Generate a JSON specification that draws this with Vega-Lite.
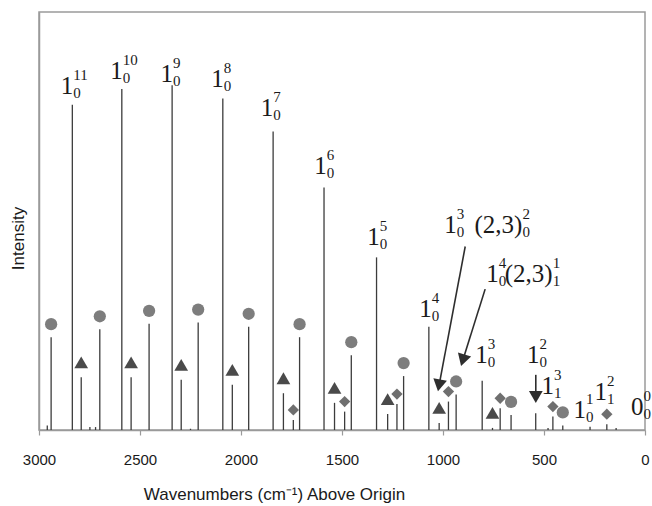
{
  "$schema": "https://vega.github.io/schema/vega-lite/v6.json",
  "width": 606,
  "height": 418,
  "autosize": {"type": "none"},
  "padding": {"left": 39, "top": 12, "right": 7, "bottom": 76},
  "background": "white",
  "config": {"view": {"stroke": "#9a9a9a", "strokeWidth": 1.5}, "font": "Liberation Sans"},
  "datasets": {
    "sticks": [
      {"wn": 2835, "I": 77.8, "type": "main"},
      {"wn": 2590, "I": 81.6, "type": "main"},
      {"wn": 2341, "I": 82.5, "type": "main"},
      {"wn": 2090, "I": 79.3, "type": "main"},
      {"wn": 1841, "I": 71.4, "type": "main"},
      {"wn": 1589, "I": 58.0, "type": "main"},
      {"wn": 1329, "I": 41.3, "type": "main"},
      {"wn": 1070, "I": 24.7, "type": "main"},
      {"wn": 806, "I": 11.8, "type": "main"},
      {"wn": 541, "I": 4.0, "type": "main"},
      {"wn": 272, "I": 0.8, "type": "main"},
      {"wn": 2940, "I": 22.2, "type": "circle"},
      {"wn": 2699, "I": 24.1, "type": "circle"},
      {"wn": 2455, "I": 25.4, "type": "circle"},
      {"wn": 2212, "I": 25.7, "type": "circle"},
      {"wn": 1962, "I": 24.7, "type": "circle"},
      {"wn": 1710, "I": 22.2, "type": "circle"},
      {"wn": 1454, "I": 17.9, "type": "circle"},
      {"wn": 1195, "I": 12.9, "type": "circle"},
      {"wn": 935, "I": 8.5, "type": "circle"},
      {"wn": 663, "I": 3.6, "type": "circle"},
      {"wn": 407, "I": 1.1, "type": "circle"},
      {"wn": 2791, "I": 12.6, "type": "triangle"},
      {"wn": 2544, "I": 12.6, "type": "triangle"},
      {"wn": 2296, "I": 12.0, "type": "triangle"},
      {"wn": 2043, "I": 10.8, "type": "triangle"},
      {"wn": 1790, "I": 8.8, "type": "triangle"},
      {"wn": 1537, "I": 6.5, "type": "triangle"},
      {"wn": 1274, "I": 3.8, "type": "triangle"},
      {"wn": 1019, "I": 1.7, "type": "triangle"},
      {"wn": 755, "I": 0.5, "type": "triangle"},
      {"wn": 1741, "I": 2.4, "type": "diamond"},
      {"wn": 1487, "I": 4.4, "type": "diamond"},
      {"wn": 1228, "I": 6.2, "type": "diamond"},
      {"wn": 973, "I": 6.8, "type": "diamond"},
      {"wn": 717, "I": 5.2, "type": "diamond"},
      {"wn": 456, "I": 3.2, "type": "diamond"},
      {"wn": 189, "I": 1.4, "type": "diamond"},
      {"wn": 2959, "I": 1.1, "type": "minor"},
      {"wn": 2748, "I": 0.7, "type": "minor"},
      {"wn": 2720, "I": 0.7, "type": "minor"},
      {"wn": 2250, "I": 0.3, "type": "minor"},
      {"wn": 480, "I": 0.5, "type": "minor"},
      {"wn": 143, "I": 0.5, "type": "minor"}
    ],
    "labels": [
      {"wn": 2835, "I": 80.5, "main": "1", "sup": "11", "sub": "0"},
      {"wn": 2590, "I": 84.0, "main": "1", "sup": "10", "sub": "0"},
      {"wn": 2341, "I": 83.3, "main": "1", "sup": "9", "sub": "0"},
      {"wn": 2090, "I": 82.1, "main": "1", "sup": "8", "sub": "0"},
      {"wn": 1845, "I": 75.1, "main": "1", "sup": "7", "sub": "0"},
      {"wn": 1580, "I": 61.2, "main": "1", "sup": "6", "sub": "0"},
      {"wn": 1318, "I": 44.3, "main": "1", "sup": "5", "sub": "0"},
      {"wn": 1061, "I": 27.1, "main": "1", "sup": "4", "sub": "0"},
      {"wn": 784, "I": 16.0, "main": "1", "sup": "3", "sub": "0"},
      {"wn": 527, "I": 16.0, "main": "1", "sup": "2", "sub": "0"},
      {"wn": 455, "I": 8.5, "main": "1", "sup": "3", "sub": "1"},
      {"wn": 297, "I": 2.8, "main": "1", "sup": "1", "sub": "0"},
      {"wn": 193, "I": 7.2, "main": "1", "sup": "2", "sub": "1"},
      {"wn": 12, "I": 3.6, "main": "0", "sup": "0", "sub": "0"},
      {"wn": 937, "I": 47.1, "main": "1", "sup": "3", "sub": "0"},
      {"wn": 612, "I": 47.1, "main": "(2,3)", "sup": "2", "sub": "0"},
      {"wn": 729, "I": 35.4, "main": "1", "sup": "4", "sub": "0"},
      {"wn": 462, "I": 35.4, "main": "(2,3)", "sup": "1", "sub": "1"}
    ],
    "arrows": [
      {"id": "a", "wn": 890, "I": 43.9, "wn2": 1019.5, "I2": 10.7},
      {"id": "b", "wn": 791.3, "I": 33.7, "wn2": 902.0, "I2": 16.7},
      {"id": "c", "wn": 540.6, "I": 13.2, "wn2": 540.6, "I2": 7.9}
    ]
  },
  "encoding": {
    "x": {
      "field": "wn", "type": "quantitative",
      "scale": {"domain": [0, 3000], "reverse": true, "nice": false, "zero": false},
      "axis": {
        "values": [0, 500, 1000, 1500, 2000, 2500, 3000],
        "format": "d",
        "grid": false, "domainColor": "#9a9a9a", "domainWidth": 1.5,
        "tickColor": "#9a9a9a", "tickSize": 5, "tickWidth": 1.2,
        "labelFont": "Liberation Sans", "labelFontSize": 15, "labelColor": "#1a1a1a",
        "labelPadding": 17, "labelFlush": false,
        "title": "Wavenumbers (cm⁻¹) Above Origin",
        "titleFont": "Liberation Sans", "titleFontSize": 17, "titleFontWeight": "normal",
        "titleColor": "#1a1a1a", "titleBaseline": "alphabetic", "titleY": 69, "titleX": 235
      }
    },
    "y": {
      "field": "I", "type": "quantitative",
      "scale": {"domain": [0, 100], "nice": false},
      "axis": {
        "grid": false, "ticks": false, "labels": false,
        "domainColor": "#9a9a9a", "domainWidth": 1.5,
        "title": "Intensity", "titleFont": "Liberation Sans", "titleFontSize": 17,
        "titleFontWeight": "normal", "titleColor": "#1a1a1a",
        "titleAngle": -90, "titleBaseline": "alphabetic", "titleX": -16, "titleY": 226
      }
    }
  },
  "layer": [
    {
      "data": {"name": "sticks"},
      "mark": {"type": "rule", "color": "#3c3c3c", "strokeWidth": 1.3},
      "encoding": {"y2": {"datum": 0}}
    },
    {
      "data": {"name": "sticks"},
      "transform": [{"filter": "datum.type === 'circle'"}],
      "mark": {"type": "point", "shape": "circle", "filled": true, "opacity": 1, "size": 150, "color": "#7d7d7d", "yOffset": -13}
    },
    {
      "data": {"name": "sticks"},
      "transform": [{"filter": "datum.type === 'triangle'"}],
      "mark": {"type": "point", "shape": "triangle-up", "filled": true, "opacity": 1, "size": 188, "color": "#4a4a4a", "yOffset": -15}
    },
    {
      "data": {"name": "sticks"},
      "transform": [{"filter": "datum.type === 'diamond'"}],
      "mark": {"type": "point", "shape": "diamond", "filled": true, "opacity": 1, "size": 128, "color": "#6f6f6f", "yOffset": -10}
    },
    {
      "data": {"name": "arrows"},
      "mark": {"type": "rule", "color": "#2e2e2e", "strokeWidth": 1.6},
      "encoding": {"x2": {"field": "wn2"}, "y2": {"field": "I2"}}
    },
    {
      "data": {"name": "arrows"},
      "transform": [{"filter": "datum.id === 'a'"}],
      "mark": {"type": "point", "shape": "triangle-down", "filled": true, "opacity": 1, "size": 190, "color": "#2e2e2e", "angle": 10.5},
      "encoding": {"x": {"field": "wn2", "type": "quantitative"}, "y": {"field": "I2", "type": "quantitative"}}
    },
    {
      "data": {"name": "arrows"},
      "transform": [{"filter": "datum.id === 'b'"}],
      "mark": {"type": "point", "shape": "triangle-down", "filled": true, "opacity": 1, "size": 190, "color": "#2e2e2e", "angle": 17},
      "encoding": {"x": {"field": "wn2", "type": "quantitative"}, "y": {"field": "I2", "type": "quantitative"}}
    },
    {
      "data": {"name": "arrows"},
      "transform": [{"filter": "datum.id === 'c'"}],
      "mark": {"type": "point", "shape": "triangle-down", "filled": true, "opacity": 1, "size": 190, "color": "#2e2e2e", "angle": 0},
      "encoding": {"x": {"field": "wn2", "type": "quantitative"}, "y": {"field": "I2", "type": "quantitative"}}
    },
    {
      "data": {"name": "labels"},
      "mark": {"type": "text", "align": "right", "baseline": "alphabetic", "font": "Liberation Serif", "fontSize": 25, "color": "#1a1a1a", "dx": 1},
      "encoding": {"text": {"field": "main"}}
    },
    {
      "data": {"name": "labels"},
      "mark": {"type": "text", "align": "left", "baseline": "alphabetic", "font": "Liberation Serif", "fontSize": 15, "color": "#1a1a1a", "dx": 1, "dy": -14},
      "encoding": {"text": {"field": "sup"}}
    },
    {
      "data": {"name": "labels"},
      "mark": {"type": "text", "align": "left", "baseline": "alphabetic", "font": "Liberation Serif", "fontSize": 15, "color": "#1a1a1a", "dx": 1, "dy": 4},
      "encoding": {"text": {"field": "sub"}}
    }
  ]
}
